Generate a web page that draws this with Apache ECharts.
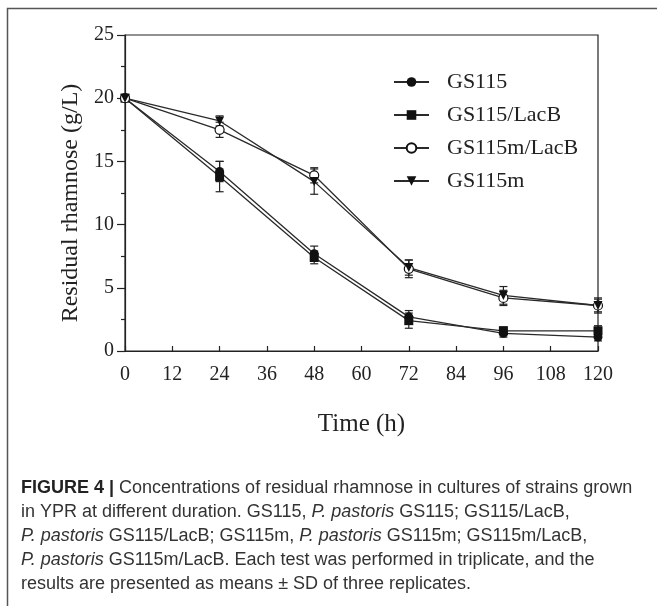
<!DOCTYPE html>
<html>
<head>
<meta charset="utf-8">
<script src="https://cdn.jsdelivr.net/npm/echarts@6/dist/echarts.min.js"></script>
<style>
    html, body { margin: 0; padding: 0; background: #fff; }
    #chart { width: 657px; height: 606px; }
</style>
</head>
<body>
<div id="chart"></div>
<script>
// sampling times (h)
var times = [0, 24, 48, 72, 96, 120];

// residual rhamnose (g/L), mean and SD
var gs115 = [20, 14.2, 7.7, 2.7, 1.4, 1.1];
var gs115Err = [0, 0.8, 0.6, 0.5, 0.3, 0.3];
var gs115LacB = [20, 13.8, 7.4, 2.4, 1.6, 1.6];
var gs115LacBErr = [0, 1.2, 0.5, 0.6, 0.3, 0.4];
var gs115mLacB = [20, 17.5, 13.9, 6.5, 4.2, 3.6];
var gs115mLacBErr = [0, 0.6, 0.6, 0.7, 0.6, 0.5];
var gs115m = [20, 18.2, 13.4, 6.6, 4.4, 3.6];
var gs115mErr = [0, 0.4, 1.0, 0.6, 0.7, 0.6];

var captionLines = [
    [['b', 'FIGURE 4 | '], ['n', 'Concentrations of residual rhamnose in cultures of strains grown']],
    [['n', 'in YPR at different duration. GS115, '], ['i', 'P. pastoris'], ['n', ' GS115; GS115/LacB,']],
    [['i', 'P. pastoris'], ['n', ' GS115/LacB; GS115m, '], ['i', 'P. pastoris'], ['n', ' GS115m; GS115m/LacB,']],
    [['i', 'P. pastoris'], ['n', ' GS115m/LacB. Each test was performed in triplicate, and the']],
    [['n', 'results are presented as means \u00b1 SD of three replicates.']]
];

var serif = '"Liberation Serif", "Times New Roman", serif';
var sans = '"Liberation Sans", Arial, sans-serif';

function pairs(vals) {
    return times.map(function (t, i) { return [t, vals[i]]; });
}

function errData(vals, errs) {
    return times.map(function (t, i) { return [t, vals[i], errs[i]]; });
}

function lineSeries(name, vals, symbol, filled) {
    return {
        name: name,
        type: 'line',
        data: pairs(vals),
        symbol: symbol,
        symbolSize: 9,
        symbolRotate: symbol === 'triangle' ? 180 : 0,
        showAllSymbol: true,
        z: 5,
        lineStyle: { color: '#2a2a2a', width: 1.3 },
        itemStyle: {
            color: filled ? '#111' : '#fff',
            borderColor: '#111',
            borderWidth: filled ? 0 : 1.2
        },
        emphasis: { disabled: true }
    };
}

function errSeries(vals, errs) {
    return {
        type: 'custom',
        data: errData(vals, errs),
        z: 3,
        silent: true,
        renderItem: function (params, api) {
            var x = api.value(0), y = api.value(1), e = api.value(2);
            if (!e) return;
            var top = api.coord([x, y + e]);
            var bot = api.coord([x, y - e]);
            var w = 4;
            var st = { stroke: '#222', lineWidth: 1.2 };
            return {
                type: 'group',
                children: [
                    { type: 'line', shape: { x1: top[0], y1: top[1], x2: bot[0], y2: bot[1] }, style: st },
                    { type: 'line', shape: { x1: top[0] - w, y1: top[1], x2: top[0] + w, y2: top[1] }, style: st },
                    { type: 'line', shape: { x1: bot[0] - w, y1: bot[1], x2: bot[0] + w, y2: bot[1] }, style: st }
                ]
            };
        }
    };
}

var captionGraphics = captionLines.map(function (line, i) {
    var txt = line.map(function (seg) {
        return '{' + seg[0] + '|' + seg[1] + '}';
    }).join('');
    return {
        type: 'text',
        left: 21,
        top: 479 + i * 24,
        style: {
            text: txt,
            rich: {
                b: { fontFamily: sans, fontSize: 18, lineHeight: 22, fontWeight: 'bold', fill: '#222' },
                n: { fontFamily: sans, fontSize: 18, lineHeight: 22, fill: '#333' },
                i: { fontFamily: sans, fontSize: 18, lineHeight: 22, fontStyle: 'italic', fill: '#333' }
            }
        }
    };
});

var myChart = echarts.init(document.getElementById('chart'), null, { renderer: 'canvas' });

var option = {
    backgroundColor: '#fff',
    animation: false,
    grid: {
        left: 125,
        top: 35,
        width: 473,
        height: 316,
        show: true,
        borderColor: '#222',
        borderWidth: 1.2,
        backgroundColor: 'transparent'
    },
    legend: {
        orient: 'vertical',
        left: 393,
        top: 71,
        padding: 0,
        itemWidth: 35,
        itemHeight: 12,
        itemGap: 11,
        selectedMode: false,
        data: ['GS115', 'GS115/LacB', 'GS115m/LacB', 'GS115m'],
        textStyle: {
            fontFamily: serif,
            fontSize: 22,
            color: '#222',
            lineHeight: 22,
            padding: [0, 0, 0, 13]
        }
    },
    xAxis: {
        type: 'value',
        min: 0,
        max: 120,
        interval: 12,
        name: 'Time (h)',
        nameLocation: 'middle',
        nameGap: 61,
        nameTextStyle: { fontFamily: serif, fontSize: 25, color: '#222' },
        axisLine: { lineStyle: { color: '#222', width: 1.2 } },
        axisTick: { inside: true, length: 5, lineStyle: { color: '#222', width: 1.2 } },
        axisLabel: { fontFamily: serif, fontSize: 20, color: '#222', margin: 14 },
        splitLine: { show: false }
    },
    yAxis: {
        type: 'value',
        min: 0,
        max: 25,
        interval: 5,
        name: 'Residual rhamnose (g/L)',
        nameLocation: 'middle',
        nameGap: 42,
        nameTextStyle: { fontFamily: serif, fontSize: 24, color: '#222', padding: [0, 20, 0, 0] },
        axisLine: { show: true, lineStyle: { color: '#222', width: 1.2 } },
        axisTick: { show: true, length: 8, lineStyle: { color: '#222', width: 1.2 } },
        minorTick: { show: true, splitNumber: 2, length: 4, lineStyle: { color: '#222', width: 1.2 } },
        axisLabel: { fontFamily: serif, fontSize: 20, color: '#222', margin: 11 },
        splitLine: { show: false }
    },
    graphic: [
        {
            type: 'polyline',
            shape: { points: [[7.5, 606], [7.5, 8.5], [657, 8.5]] },
            style: { stroke: '#555', lineWidth: 1.5, fill: null }
        }
    ].concat(captionGraphics),
    series: [
        errSeries(gs115, gs115Err),
        errSeries(gs115LacB, gs115LacBErr),
        errSeries(gs115mLacB, gs115mLacBErr),
        errSeries(gs115m, gs115mErr),
        lineSeries('GS115', gs115, 'circle', true),
        lineSeries('GS115/LacB', gs115LacB, 'rect', true),
        lineSeries('GS115m/LacB', gs115mLacB, 'circle', false),
        lineSeries('GS115m', gs115m, 'triangle', true)
    ]
};

myChart.setOption(option);
</script>
</body>
</html>
